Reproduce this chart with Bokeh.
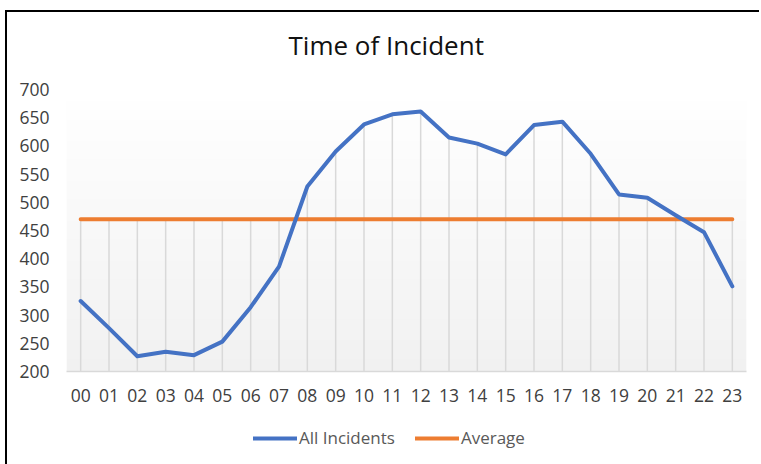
import numpy as np
from bokeh.plotting import figure
from bokeh.layouts import column
from bokeh.models import Range1d, FixedTicker, Legend, LegendItem, Label
from bokeh.embed import file_html
from bokeh.resources import INLINE

title_text = "Time of Incident"
hour_labels = ["00", "01", "02", "03", "04", "05", "06", "07", "08", "09", "10", "11",
               "12", "13", "14", "15", "16", "17", "18", "19", "20", "21", "22", "23"]
all_incidents = [325, 277, 227, 235, 229, 253, 314, 386, 528, 590, 638, 656,
                 661, 615, 604, 585, 637, 643, 586, 514, 508, 477, 447, 351]
average_value = 470
average = [average_value] * len(hour_labels)
y_ticks = [200, 250, 300, 350, 400, 450, 500, 550, 600, 650, 700]

FONT = "Open Sans"
BLUE, ORANGE = "#4472C4", "#ED7D31"
x = np.arange(len(hour_labels))
y_min, y_max = y_ticks[0], y_ticks[-1]


def blank(fig):
    fig.axis.visible = False
    fig.xgrid.visible = False
    fig.ygrid.visible = False
    fig.outline_line_color = None
    fig.background_fill_alpha = 0
    fig.border_fill_alpha = 0


# title strip
p0 = figure(width=752, height=65, output_backend="svg", toolbar_location=None,
            title=None, x_range=Range1d(0, 1), y_range=Range1d(0, 1),
            min_border_left=0, min_border_right=0, min_border_top=0, min_border_bottom=0)
blank(p0)
p0.add_layout(Label(x=222, y=32.5, x_units="screen", y_units="screen", text=title_text,
                    text_font=FONT, text_font_size="26px", text_color="#111111",
                    text_baseline="alphabetic", text_align="left"))

# main chart
p = figure(width=752, height=339, output_backend="svg", toolbar_location=None,
           title=None,
           x_range=Range1d(-0.5, len(hour_labels) - 0.5),
           y_range=Range1d(y_min, y_max),
           min_border_left=59, min_border_right=13,
           min_border_top=12, min_border_bottom=45)
p.outline_line_color = None
p.xgrid.visible = False
p.ygrid.visible = False
p.background_fill_color = "white"

# gradient background of the plot area
n = 120
img = np.empty((n, 1), dtype=np.uint32)
view = img.view(dtype=np.uint8).reshape((n, 1, 4))
for i in range(n):
    g = int(round(241 + (255 - 241) * i / (n - 1)))
    view[i, 0, :] = [g, g, g, 255]
p.image_rgba(image=[img], x=-0.5, y=y_min, dw=len(hour_labels), dh=y_max - y_min)

# drop lines
top = np.maximum(np.array(all_incidents), np.array(average))
p.segment(x0=x, y0=y_min, x1=x, y1=top, line_color="#d9d9d9", line_width=1.5)

p.line(x, average, line_color=ORANGE, line_width=4, line_cap="round")
p.line(x, all_incidents, line_color=BLUE, line_width=4,
       line_cap="round", line_join="round")

# axes
p.xaxis.ticker = FixedTicker(ticks=list(x))
p.xaxis.major_label_overrides = {int(i): lab for i, lab in zip(x, hour_labels)}
p.yaxis.ticker = FixedTicker(ticks=y_ticks)
for ax in (p.xaxis[0], p.yaxis[0]):
    ax.major_tick_line_color = None
    ax.minor_tick_line_color = None
    ax.major_label_text_font = FONT
    ax.major_label_text_font_size = "17.5px"
    ax.major_label_text_color = "#404040"
p.xaxis.axis_line_color = "#d9d9d9"
p.xaxis.axis_line_width = 1.5
p.xaxis.major_label_standoff = 11
p.yaxis.axis_line_color = None
p.yaxis.major_label_standoff = 11

# legend strip below the chart
p2 = figure(width=752, height=48, output_backend="svg", toolbar_location=None,
            title=None,
            x_range=Range1d(-0.5, len(hour_labels) - 0.5),
            y_range=Range1d(y_min, y_max),
            min_border_left=0, min_border_right=0,
            min_border_top=0, min_border_bottom=0)
blank(p2)
l_all = p2.line(x, all_incidents, line_color=BLUE, line_width=4, line_cap="round",
                visible=False)
l_avg = p2.line(x, average, line_color=ORANGE, line_width=4, line_cap="round",
                visible=False)

legend = Legend(items=[LegendItem(label="All Incidents", renderers=[l_all]),
                       LegendItem(label="Average", renderers=[l_avg])],
                location=(187, 15), orientation="horizontal")
legend.label_text_font = FONT
legend.label_text_font_size = "17px"
legend.label_text_color = "#595959"
legend.glyph_width = 44
legend.label_standoff = 2
legend.spacing = 20
legend.padding = 0
legend.margin = 0
legend.border_line_color = None
legend.background_fill_alpha = 0
legend.inactive_fill_alpha = 0
p2.add_layout(legend, "center")

layout = column(p0, p, p2, spacing=0,
                styles={"border-left": "2px solid #000", "border-top": "2px solid #000",
                        "margin-left": "5px", "margin-top": "10px"})

open("out.html", "w").write(file_html(layout, INLINE))
